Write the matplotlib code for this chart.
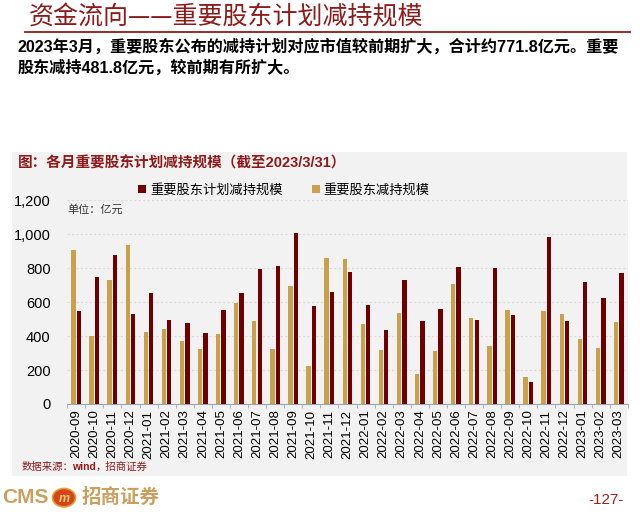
import numpy as np
import matplotlib
matplotlib.use("Agg")
import matplotlib.pyplot as plt
from matplotlib.patches import Rectangle, Circle
from matplotlib.lines import Line2D
from matplotlib.ticker import FuncFormatter, MultipleLocator

plt.rcParams['font.family'] = ['Liberation Sans', 'Noto Sans CJK SC']

months = ['2020-09', '2020-10', '2020-11', '2020-12',
          '2021-01', '2021-02', '2021-03', '2021-04', '2021-05', '2021-06',
          '2021-07', '2021-08', '2021-09', '2021-10', '2021-11', '2021-12',
          '2022-01', '2022-02', '2022-03', '2022-04', '2022-05', '2022-06',
          '2022-07', '2022-08', '2022-09', '2022-10', '2022-11', '2022-12',
          '2023-01', '2023-02', '2023-03']

# 重要股东减持规模 (gold)
actual = [905, 403, 732, 938, 425, 439, 370, 321, 413, 592,
          490, 323, 696, 224, 862, 854, 468, 317, 533, 179,
          313, 706, 506, 342, 553, 159, 545, 527, 382, 327, 481.8]
# 重要股东计划减持规模 (dark red)
planned = [545, 747, 877, 531, 655, 496, 478, 420, 551, 653,
           797, 810, 1007, 574, 659, 777, 584, 437, 732, 486,
           557, 808, 492, 799, 525, 130, 982, 488, 716, 622, 771.8]

GOLD = '#C9A04C'
DARK_RED = '#6E0000'
TITLE_RED = '#8E1B1B'
PANEL = '#F2F2F2'

fig = plt.figure(figsize=(6.4, 5.12), dpi=100)

# --- page header ---
fig.text(0.045, 0.966, '资金流向——重要股东计划减持规模', fontsize=18,
         color=TITLE_RED, va='center', ha='left', family=['Noto Sans CJK SC'])
fig.add_artist(Line2D([0.039, 0.984], [0.938, 0.938], color=TITLE_RED, lw=1.3))
fig.text(0.028, 0.909, '2023年3月，重要股东公布的减持计划对应市值较前期扩大，合计约771.8亿元。重要',
         fontsize=11.6, fontweight='bold', va='center', ha='left')
fig.text(0.028, 0.868, '股东减持481.8亿元，较前期有所扩大。',
         fontsize=11.6, fontweight='bold', va='center', ha='left')

# --- gray panel ---
fig.add_artist(Rectangle((0.019, 0.07), 0.961, 0.633, transform=fig.transFigure,
                         facecolor=PANEL, edgecolor='none', zorder=0))
fig.text(0.028, 0.681, '图：各月重要股东计划减持规模（截至2023/3/31）', fontsize=10.5,
         color=TITLE_RED, fontweight='bold', va='center', ha='left')

ax = fig.add_axes([0.105, 0.211, 0.876, 0.398])
ax.set_facecolor(PANEL)
x = np.arange(len(months))
w = 0.24
ax.bar(x - 0.155, actual, width=w, color=GOLD, label='重要股东减持规模', zorder=3)
ax.bar(x + 0.145, planned, width=w, color=DARK_RED, label='重要股东计划减持规模', zorder=3)

ax.set_xlim(-0.5, len(months) - 0.5)
ax.set_ylim(0, 1200)
ax.yaxis.set_major_locator(MultipleLocator(200))
ax.yaxis.set_major_formatter(FuncFormatter(lambda v, p: f'{int(v):,}'))
ax.grid(axis='y', color='#D9D9D9', linestyle=(0, (2, 2)), lw=0.8, zorder=0)
for s in ['top', 'right', 'left']:
    ax.spines[s].set_visible(False)
ax.spines['bottom'].set_color('#9AA7B8')
ax.tick_params(axis='y', length=0, labelsize=10.5, pad=12)
ax.set_xticks(x)
ax.set_xticklabels(months, rotation=90, fontsize=9.5)
ax.tick_params(axis='x', which='major', length=0, pad=4)
ax.set_xticks(np.arange(-0.5, len(months)), minor=True)
ax.tick_params(axis='x', which='minor', length=3, color='#9AA7B8')

ax.text(0.0, 0.955, '单位：亿元', transform=ax.transAxes, fontsize=8,
        va='center', ha='left', color='#333333')

handles, labels = ax.get_legend_handles_labels()
fig.legend(handles[::-1], labels[::-1], loc='center left', bbox_to_anchor=(0.216, 0.628),
           ncol=2, frameon=False, fontsize=9.5, handlelength=0.6, handleheight=0.6,
           handletextpad=0.3, columnspacing=2.2, borderaxespad=0, borderpad=0)

fig.text(0.034, 0.088, '数据来源：', fontsize=7.5, color=TITLE_RED, va='center', ha='left')
fig.text(0.112, 0.088, 'wind', fontsize=7.5, color=TITLE_RED, fontweight='bold',
         va='center', ha='left')
fig.text(0.15, 0.088, '，招商证券', fontsize=7.5, color=TITLE_RED, va='center', ha='left')

# --- footer ---
fig.text(0.003, 0.028, 'CMS', fontsize=15, color='#C9A060', fontweight='bold',
         va='center', ha='left')
fig.add_artist(Circle((0.1, 0.028), 0.018, transform=fig.transFigure,
                      facecolor='#D2451E', edgecolor='#E8A030', lw=1.2))
fig.text(0.1, 0.026, 'm', fontsize=9, color='#F5D060', fontweight='bold', style='italic',
         va='center', ha='center')
fig.text(0.128, 0.028, '招商证券', fontsize=14, color='#C9A060', fontweight='bold',
         va='center', ha='left')
fig.text(0.975, 0.024, '-127-', fontsize=11, color='#A01E1E', va='center', ha='right')

fig.savefig('out.png', dpi=100)
